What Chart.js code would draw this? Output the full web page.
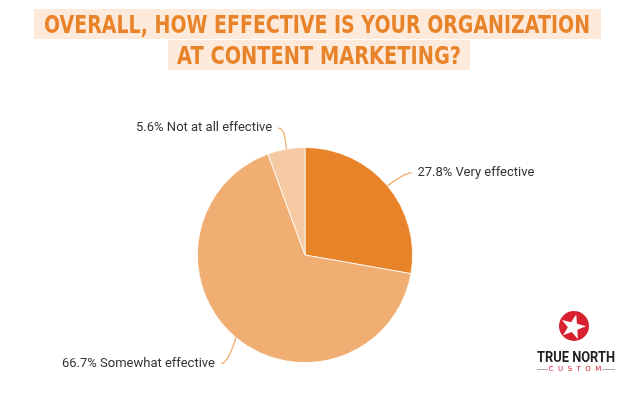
<!DOCTYPE html>
<html>
<head>
<meta charset="utf-8">
<script src="https://cdn.jsdelivr.net/npm/chart.js@4"></script>
<style>
  html, body { margin: 0; padding: 0; background: #fff; }
  #wrap { position: relative; width: 630px; height: 393px; }
</style>
</head>
<body>
<div id="wrap"><canvas id="pie" width="630" height="393"></canvas></div>
<script>
var titleLines = ["OVERALL, HOW EFFECTIVE IS YOUR ORGANIZATION", "AT CONTENT MARKETING?"]
var categories = ["Very effective", "Somewhat effective", "Not at all effective"]
var shares = [27.8, 66.7, 5.6]
var sliceColors = ["#e8832a", "#f0ae72", "#f5c9a1"]

// where each label sits relative to its slice edge point (dx, dy of line end)
var labelOffsets = [[24, -13], [-15, 26], [-8, -21]]

// title, labels with leader lines and the logo
const decorPlugin = {
    id: "decor",
    afterDraw(chart) {
        const ctx = chart.ctx
        ctx.save()
        // title
        const rows = [
            { text: titleLines[0], cx: 317, bg: [34, 9, 567, 30], w: 546 },
            { text: titleLines[1], cx: 319, bg: [168, 40, 302, 30], w: 284 },
        ]
        rows.forEach((r) => {
            ctx.fillStyle = "#fdeadb"
            ctx.fillRect(r.bg[0], r.bg[1], r.bg[2], r.bg[3])
            ctx.font = "bold 25px 'DejaVu Sans'"
            const tw = ctx.measureText(r.text).width
            ctx.save()
            ctx.translate(r.cx, r.bg[1] + 24)
            ctx.scale(r.w / tw, 1)
            ctx.fillStyle = "#e8832a"
            ctx.textAlign = "center"
            ctx.textBaseline = "alphabetic"
            ctx.fillText(r.text, 0, 0)
            ctx.restore()
        })

        // labels
        const meta = chart.getDatasetMeta(0)
        ctx.font = "13px 'Roboto'"
        ctx.textBaseline = "middle"
        meta.data.forEach((arc, i) => {
            const mid = (arc.startAngle + arc.endAngle) / 2
            const sx = arc.x + Math.cos(mid) * arc.outerRadius
            const sy = arc.y + Math.sin(mid) * arc.outerRadius
            const ex = sx + labelOffsets[i][0]
            const ey = sy + labelOffsets[i][1]
            const dir = ex > sx ? 1 : -1
            ctx.strokeStyle = "#f0a868"
            ctx.lineWidth = 1.2
            ctx.beginPath()
            ctx.moveTo(sx, sy)
            ctx.quadraticCurveTo(ex - dir * 7, ey, ex, ey)
            ctx.stroke()
            ctx.fillStyle = "#333"
            ctx.textAlign = dir > 0 ? "left" : "right"
            ctx.fillText(shares[i].toFixed(1) + "% " + categories[i], ex + dir * 6, ey)
        })

        // logo
        const lx = 574, ly = 326
        ctx.fillStyle = "#d8202e"
        ctx.beginPath()
        ctx.arc(lx, ly, 15, 0, Math.PI * 2)
        ctx.fill()
        ctx.fillStyle = "#fff"
        ctx.beginPath()
        for (let k = 0; k < 10; k++) {
            const a = -Math.PI / 2 + 0.25 + k * Math.PI / 5
            const rr = k % 2 === 0 ? 13 : 5.2
            const px = lx - 1 + Math.cos(a) * rr
            const py = ly + 1 + Math.sin(a) * rr
            k === 0 ? ctx.moveTo(px, py) : ctx.lineTo(px, py)
        }
        ctx.closePath()
        ctx.fill()
        ctx.fillStyle = "#231f20"
        ctx.font = "bold 14px 'Roboto'"
        ctx.textAlign = "center"
        ctx.textBaseline = "alphabetic"
        const tn = "TRUE NORTH"
        const tnw = ctx.measureText(tn).width
        ctx.save()
        ctx.translate(576, 362)
        ctx.scale(78 / tnw, 1)
        ctx.fillText(tn, 0, 0)
        ctx.restore()
        ctx.fillStyle = "#d8202e"
        ctx.font = "7px 'DejaVu Sans'"
        ctx.textBaseline = "middle"
        ctx.fillText("C  U  S  T  O  M", 575, 369)
        ctx.strokeStyle = "#aaa"
        ctx.lineWidth = 1
        ctx.beginPath()
        ctx.moveTo(537, 369.5); ctx.lineTo(548, 369.5)
        ctx.moveTo(602, 369.5); ctx.lineTo(615, 369.5)
        ctx.stroke()
        ctx.restore()
    }
}

new Chart(document.getElementById("pie").getContext("2d"), {
    type: "pie",
    data: {
        labels: categories,
        datasets: [{
            data: shares,
            backgroundColor: sliceColors,
            borderColor: "#fff",
            borderWidth: 0.8,
        }],
    },
    options: {
        responsive: false,
        animation: false,
        layout: { padding: { left: 197, right: 217, top: 147, bottom: 30 } },
        plugins: { legend: { display: false }, tooltip: { enabled: false } },
    },
    plugins: [decorPlugin],
})
</script>
</body>
</html>
